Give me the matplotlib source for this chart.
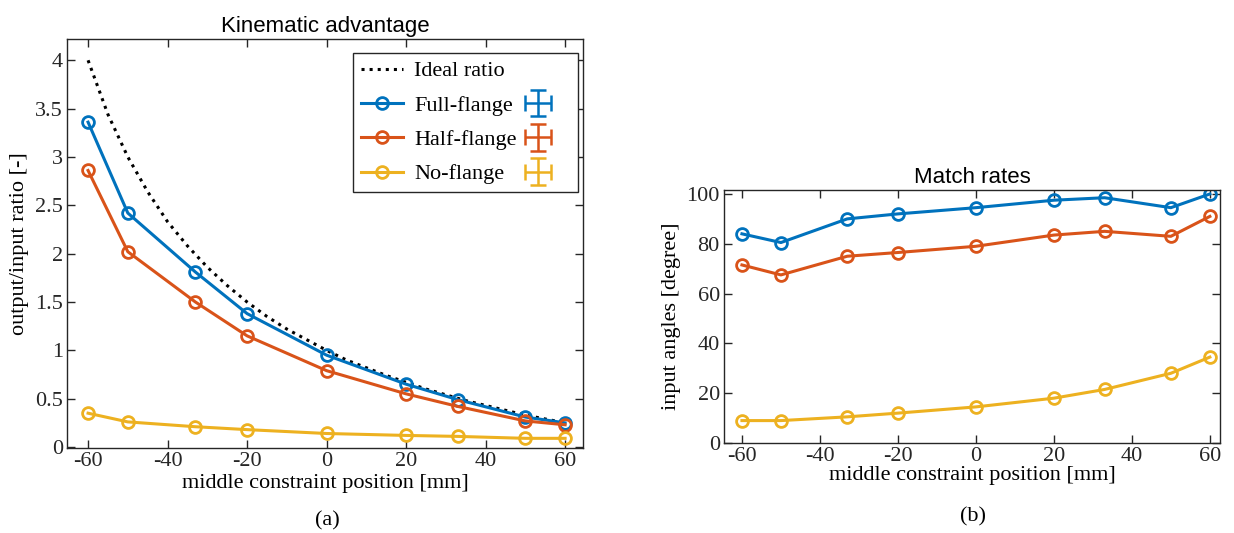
import numpy as np
import matplotlib.pyplot as plt
from matplotlib.lines import Line2D
from matplotlib.legend_handler import HandlerErrorbar

plt.rcParams['axes.unicode_minus'] = False

# data
pos = [-60, -50, -33, -20, 0, 20, 33, 50, 60]

ideal_x = [-60, -55, -50, -45, -40, -35, -30, -25, -20, -15, -10, -5, 0,
           5, 10, 15, 20, 25, 30, 35, 40, 45, 50, 55, 60]
ideal_y = [4.00, 3.44, 3.00, 2.64, 2.33, 2.08, 1.86, 1.67, 1.50, 1.35, 1.22, 1.11, 1.00,
           0.90, 0.82, 0.74, 0.67, 0.60, 0.54, 0.48, 0.43, 0.38, 0.33, 0.29, 0.25]

ratio_full = [3.36, 2.42, 1.81, 1.38, 0.95, 0.65, 0.49, 0.31, 0.25]
ratio_half = [2.86, 2.02, 1.50, 1.15, 0.79, 0.55, 0.42, 0.27, 0.23]
ratio_none = [0.35, 0.26, 0.21, 0.18, 0.14, 0.12, 0.11, 0.09, 0.09]

match_full = [84, 80.5, 90, 92, 94.5, 97.5, 98.5, 94.5, 100]
match_half = [71.5, 67.5, 75, 76.5, 79, 83.5, 85, 83, 91]
match_none = [9, 9, 10.5, 12, 14.5, 18, 21.5, 28, 34.5]

labels = ['Full-flange', 'Half-flange', 'No-flange']
colors = ['#0072BD', '#D95319', '#EDB120']

serif = 'Liberation Serif'
sans = 'Liberation Sans'
fs = 16

W, H = 1234, 533
fig = plt.figure(figsize=(W / 100, H / 100), dpi=100)


def px_axes(x0, y0, x1, y1):
    return fig.add_axes([x0 / W, (H - y1) / H, (x1 - x0) / W, (y1 - y0) / H])


def style(ax):
    ax.tick_params(direction='in', top=True, right=True, length=6, width=1,
                   labelsize=fs, colors='#262626', pad=3)
    for lab in ax.get_xticklabels() + ax.get_yticklabels():
        lab.set_fontfamily(serif)
    for s in ax.spines.values():
        s.set_color('#262626')
        s.set_linewidth(1)


line_kw = dict(lw=2.2, marker='o', ms=8.5, mfc='none', mew=2)

# (a) kinematic advantage
ax1 = px_axes(67, 39, 583, 448)
ax1.plot(ideal_x, ideal_y, ':', color='black', lw=2.2, label='Ideal ratio')
lines = []
for y, c, l in zip([ratio_full, ratio_half, ratio_none], colors, labels):
    h, = ax1.plot(pos, y, color=c, label=l, **line_kw)
    lines.append(h)
ax1.set_xlim(-65.3, 64.5)
ax1.set_ylim(-0.01, 4.22)
ax1.set_xticks([-60, -40, -20, 0, 20, 40, 60])
ax1.set_yticks([0, 0.5, 1, 1.5, 2, 2.5, 3, 3.5, 4])
ax1.set_yticklabels(['0', '0.5', '1', '1.5', '2', '2.5', '3', '3.5', '4'])
style(ax1)
ax1.set_xlabel('middle constraint position [mm]', fontsize=fs, family=serif, labelpad=2)
ax1.set_ylabel('output/input ratio [-]', fontsize=fs, family=serif, labelpad=4)
ax1.set_title('Kinematic advantage', fontsize=fs, family=sans, pad=5)

# legend with error bar symbols in a second column
eb = [ax1.errorbar([np.nan], [np.nan], xerr=[1], yerr=[1], fmt='none', ecolor=c,
                   elinewidth=1.8, capsize=6, capthick=1.8) for c in colors]
blank = Line2D([], [], alpha=0)
handles = [ax1.lines[0]] + lines + [blank] + eb
leg_labels = ['Ideal ratio'] + labels + ['', '', '', '']
ax1.legend(handles, leg_labels, ncol=2, loc='upper right',
           bbox_to_anchor=(578 / W, 1 - 53 / H), bbox_transform=fig.transFigure,
           prop={'family': serif, 'size': fs},
           frameon=True, fancybox=False, edgecolor='#262626', framealpha=1,
           handlelength=1.9, columnspacing=0.0, handletextpad=0.5,
           borderaxespad=0, labelspacing=0.62, borderpad=0.35,
           handler_map={type(eb[0]): HandlerErrorbar(xerr_size=0.6)})

# (b) match rates
ax2 = px_axes(724, 190, 1220, 443)
for y, c in zip([match_full, match_half, match_none], colors):
    ax2.plot(pos, y, color=c, **line_kw)
ax2.set_xlim(-64.6, 62.6)
ax2.set_ylim(0, 101.6)
ax2.set_xticks([-60, -40, -20, 0, 20, 40, 60])
ax2.set_yticks([0, 20, 40, 60, 80, 100])
style(ax2)
ax2.set_xlabel('middle constraint position [mm]', fontsize=fs, family=serif, labelpad=0)
ax2.set_ylabel('input angles [degree]', fontsize=fs, family=serif, labelpad=4)
ax2.set_title('Match rates', fontsize=fs, family=sans, pad=5)

fig.text(327 / W, 1 - 521 / H, '(a)', ha='center', va='center', fontsize=fs, family=serif)
fig.text(973 / W, 1 - 517 / H, '(b)', ha='center', va='center', fontsize=fs, family=serif)

fig.savefig('out.png', dpi=100)
